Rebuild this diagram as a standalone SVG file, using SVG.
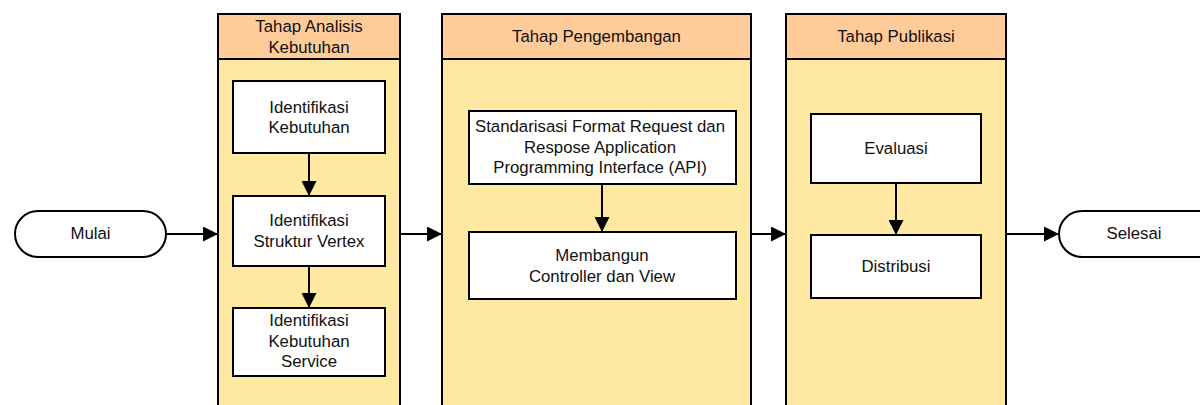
<svg xmlns="http://www.w3.org/2000/svg" width="1200" height="405" viewBox="0 0 1200 405">
  <defs>
    <style>
      .lane-body { fill: #FFE9A2; stroke: #000; stroke-width: 2; }
      .lane-head { fill: #FFCB99; stroke: #000; stroke-width: 2; }
      .box { fill: #FFFFFF; stroke: #000; stroke-width: 2; }
      .term { fill: #FFFFFF; stroke: #000; stroke-width: 2; }
      .lbl { font-family: "Liberation Sans", Arial, sans-serif; font-size: 16.8px; fill: #111; text-anchor: middle; }
      .edge { stroke: #000; stroke-width: 2; fill: none; }
      .head { fill: #000; stroke: none; }
    </style>
    <marker id="arrow" viewBox="0 0 15 15" refX="15" refY="7.5" markerWidth="15" markerHeight="15" markerUnits="userSpaceOnUse" orient="auto">
      <path class="head" d="M0,0 L15,7.5 L0,15 Z"/>
    </marker>
  </defs>
  <rect width="1200" height="405" fill="#FFFFFF"/>

  <!-- Lane: Tahap Analisis Kebutuhan -->
  <g id="lane-analisis">
    <rect class="lane-body" x="218" y="14" width="182" height="400"/>
    <rect class="lane-head" x="218" y="14" width="182" height="45"/>
    <text class="lbl" x="309" y="32">Tahap Analisis</text>
    <text class="lbl" x="309" y="53">Kebutuhan</text>
  </g>

  <!-- Lane: Tahap Pengembangan -->
  <g id="lane-pengembangan">
    <rect class="lane-body" x="442" y="14" width="309" height="400"/>
    <rect class="lane-head" x="442" y="14" width="309" height="45"/>
    <text class="lbl" x="596.5" y="42">Tahap Pengembangan</text>
  </g>

  <!-- Lane: Tahap Publikasi -->
  <g id="lane-publikasi">
    <rect class="lane-body" x="786" y="14" width="220" height="400"/>
    <rect class="lane-head" x="786" y="14" width="220" height="45"/>
    <text class="lbl" x="896" y="42">Tahap Publikasi</text>
  </g>

  <!-- Terminators -->
  <g id="mulai">
    <rect class="term" x="15" y="211" width="151" height="46" rx="23" ry="23"/>
    <text class="lbl" x="90.5" y="239">Mulai</text>
  </g>
  <g id="selesai">
    <rect class="term" x="1059" y="211" width="170" height="46" rx="23" ry="23"/>
    <text class="lbl" x="1134" y="239">Selesai</text>
  </g>

  <!-- Process boxes -->
  <g id="identifikasi-kebutuhan">
    <rect class="box" x="233" y="81" width="152" height="72"/>
    <text class="lbl" x="309" y="112.5">Identifikasi</text>
    <text class="lbl" x="309" y="133">Kebutuhan</text>
  </g>
  <g id="identifikasi-struktur">
    <rect class="box" x="233" y="196" width="152" height="70"/>
    <text class="lbl" x="309" y="226">Identifikasi</text>
    <text class="lbl" x="309" y="246.5">Struktur Vertex</text>
  </g>
  <g id="identifikasi-service">
    <rect class="box" x="233" y="308" width="152" height="68"/>
    <text class="lbl" x="309" y="326">Identifikasi</text>
    <text class="lbl" x="309" y="346.5">Kebutuhan</text>
    <text class="lbl" x="309" y="367">Service</text>
  </g>
  <g id="standarisasi-api">
    <rect class="box" x="469" y="111" width="267" height="73"/>
    <text class="lbl" x="600" y="132">Standarisasi Format Request dan</text>
    <text class="lbl" x="600" y="152.5">Respose Application</text>
    <text class="lbl" x="600" y="173">Programming Interface (API)</text>
  </g>
  <g id="membangun">
    <rect class="box" x="469" y="232" width="267" height="67"/>
    <text class="lbl" x="602" y="261">Membangun</text>
    <text class="lbl" x="602" y="281.5">Controller dan View</text>
  </g>
  <g id="evaluasi">
    <rect class="box" x="811" y="114" width="170" height="69"/>
    <text class="lbl" x="896" y="154">Evaluasi</text>
  </g>
  <g id="distribusi">
    <rect class="box" x="811" y="235" width="170" height="63"/>
    <text class="lbl" x="896" y="272">Distribusi</text>
  </g>

  <!-- Connectors -->
  <g id="connectors">
    <line class="edge" x1="166" y1="234" x2="218" y2="234" marker-end="url(#arrow)"/>
    <line class="edge" x1="400" y1="234" x2="442" y2="234" marker-end="url(#arrow)"/>
    <line class="edge" x1="751" y1="234" x2="786" y2="234" marker-end="url(#arrow)"/>
    <line class="edge" x1="1006" y1="234" x2="1059" y2="234" marker-end="url(#arrow)"/>
    <line class="edge" x1="309" y1="153" x2="309" y2="196" marker-end="url(#arrow)"/>
    <line class="edge" x1="309" y1="266" x2="309" y2="308" marker-end="url(#arrow)"/>
    <line class="edge" x1="602" y1="184" x2="602" y2="232" marker-end="url(#arrow)"/>
    <line class="edge" x1="896" y1="183" x2="896" y2="235" marker-end="url(#arrow)"/>
  </g>
</svg>
